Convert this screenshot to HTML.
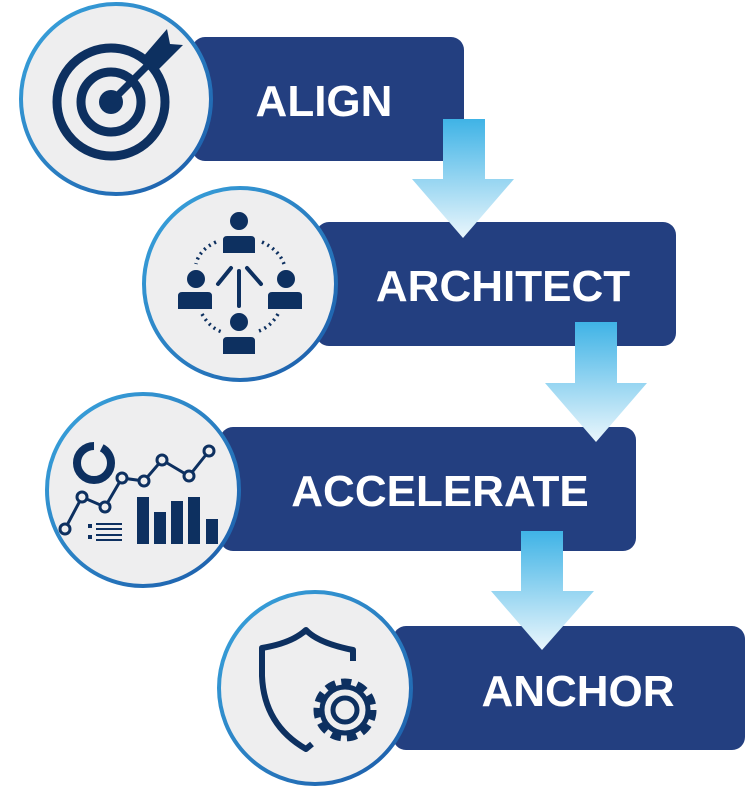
<!DOCTYPE html>
<html><head><meta charset="utf-8"><style>
html,body{margin:0;padding:0;background:#fff;}
svg{display:block}
text{font-family:"Liberation Sans",sans-serif;font-weight:bold;fill:#fff;font-size:44px;}
</style></head><body>
<svg width="751" height="788" viewBox="0 0 751 788" xmlns="http://www.w3.org/2000/svg">
<defs>
<linearGradient id="ar" x1="0" y1="0" x2="0" y2="1">
<stop offset="0" stop-color="#3fb3e6"/><stop offset="1" stop-color="#eaf6fc"/>
</linearGradient>
<linearGradient id="rim" x1="0" y1="0" x2="1" y2="1">
<stop offset="0" stop-color="#3aa6de"/><stop offset="1" stop-color="#1b5aa8"/>
</linearGradient>
</defs>
<rect x="192" y="37" width="272" height="124" rx="13" fill="#233f80"/>
<rect x="316" y="222" width="360" height="124" rx="13" fill="#233f80"/>
<rect x="220" y="427" width="416" height="124" rx="13" fill="#233f80"/>
<rect x="393" y="626" width="352" height="124" rx="13" fill="#233f80"/>
<text x="324" y="116" text-anchor="middle">ALIGN</text>
<text x="503" y="301" text-anchor="middle">ARCHITECT</text>
<text x="440" y="506" text-anchor="middle">ACCELERATE</text>
<text x="578" y="706" text-anchor="middle">ANCHOR</text>
<g fill="#eeeeef" stroke="url(#rim)" stroke-width="4">
<circle cx="116" cy="99" r="95"/>
<circle cx="240" cy="284" r="96"/>
<circle cx="143" cy="490" r="96"/>
<circle cx="315" cy="688" r="96"/>
</g>
<polygon points="443,119 485,119 485,179 514,179 463,238 412,179 443,179" fill="url(#ar)"/>
<polygon points="575,322 617,322 617,383 647,383 596,442 545,383 575,383" fill="url(#ar)"/>
<polygon points="521,531 563,531 563,591 594,591 542,650 491,591 521,591" fill="url(#ar)"/>
<g fill="none" stroke="#0d3060" stroke-width="9">
<circle cx="111" cy="102" r="54"/>
<circle cx="111" cy="102" r="30"/>
</g>
<circle cx="111" cy="102" r="12" fill="#0d3060"/>
<line x1="111" y1="102" x2="165" y2="48" stroke="#0d3060" stroke-width="7"/>
<polygon points="142,58 167,29 170,44 183,45 156,72" fill="#0d3060"/>
<g fill="#0d3060" stroke="#eeeeef" stroke-width="2">
<path d="M222,254 v-14 q0,-5 5,-5 h24 q5,0 5,5 v14 z"/><circle cx="239" cy="221" r="10"/>
<path d="M177,310 v-14 q0,-5 5,-5 h26 q5,0 5,5 v14 z"/><circle cx="196" cy="279" r="10"/>
<path d="M267,310 v-14 q0,-5 5,-5 h26 q5,0 5,5 v14 z"/><circle cx="286" cy="279" r="10"/>
<path d="M222,355 v-14 q0,-5 5,-5 h24 q5,0 5,5 v14 z"/><circle cx="239" cy="322" r="10"/>
</g>
<g stroke="#0d3060" stroke-width="4" stroke-linecap="round">
<line x1="239" y1="271" x2="239" y2="306"/>
<line x1="231" y1="268" x2="218" y2="284"/>
<line x1="247" y1="268" x2="261" y2="284"/>
</g>
<g fill="none" stroke="#0d3060" stroke-width="3.5" stroke-dasharray="2 4">
<path d="M216,242 Q199,250 196,264"/><path d="M262,242 Q279,250 284,264"/>
<path d="M202,314 Q210,328 222,332"/><path d="M278,314 Q270,328 256,332"/>
</g>
<circle cx="94" cy="463" r="17" fill="none" stroke="#0d3060" stroke-width="8" stroke-dasharray="80 8"/>
<polyline points="65,529 82,497 105,507 122,478 144,481 162,460 189,476 209,451" fill="none" stroke="#0d3060" stroke-width="3"/>
<g fill="#eeeeef" stroke="#0d3060" stroke-width="3">
<circle cx="65" cy="529" r="5"/><circle cx="82" cy="497" r="5"/><circle cx="105" cy="507" r="5"/><circle cx="122" cy="478" r="5"/><circle cx="144" cy="481" r="5"/><circle cx="162" cy="460" r="5"/><circle cx="189" cy="476" r="5"/><circle cx="209" cy="451" r="5"/>
</g>
<g fill="#0d3060">
<rect x="137" y="497" width="12" height="47"/><rect x="154" y="512" width="12" height="32"/><rect x="171" y="501" width="12" height="43"/><rect x="188" y="497" width="12" height="47"/><rect x="206" y="519" width="12" height="25"/>
<rect x="88" y="524" width="4" height="4"/><rect x="88" y="535" width="4" height="4"/>
<rect x="96" y="523" width="26" height="2"/><rect x="96" y="528" width="26" height="2"/><rect x="96" y="534" width="26" height="2"/><rect x="96" y="539" width="26" height="2"/>
</g>
<path d="M353,661 v-11 q-35,-7 -47,-20 q-14,13 -44,18 v28 q2,49 44,73 l6,-5" fill="none" stroke="#0d3060" stroke-width="6" stroke-linejoin="round"/>
<g transform="translate(345,710)">
<circle r="28" fill="none" stroke="#0d3060" stroke-width="7" stroke-dasharray="10 6"/>
<circle r="23" fill="none" stroke="#0d3060" stroke-width="5"/>
<circle r="12" fill="none" stroke="#0d3060" stroke-width="5"/>
</g>
</svg>
</body></html>
